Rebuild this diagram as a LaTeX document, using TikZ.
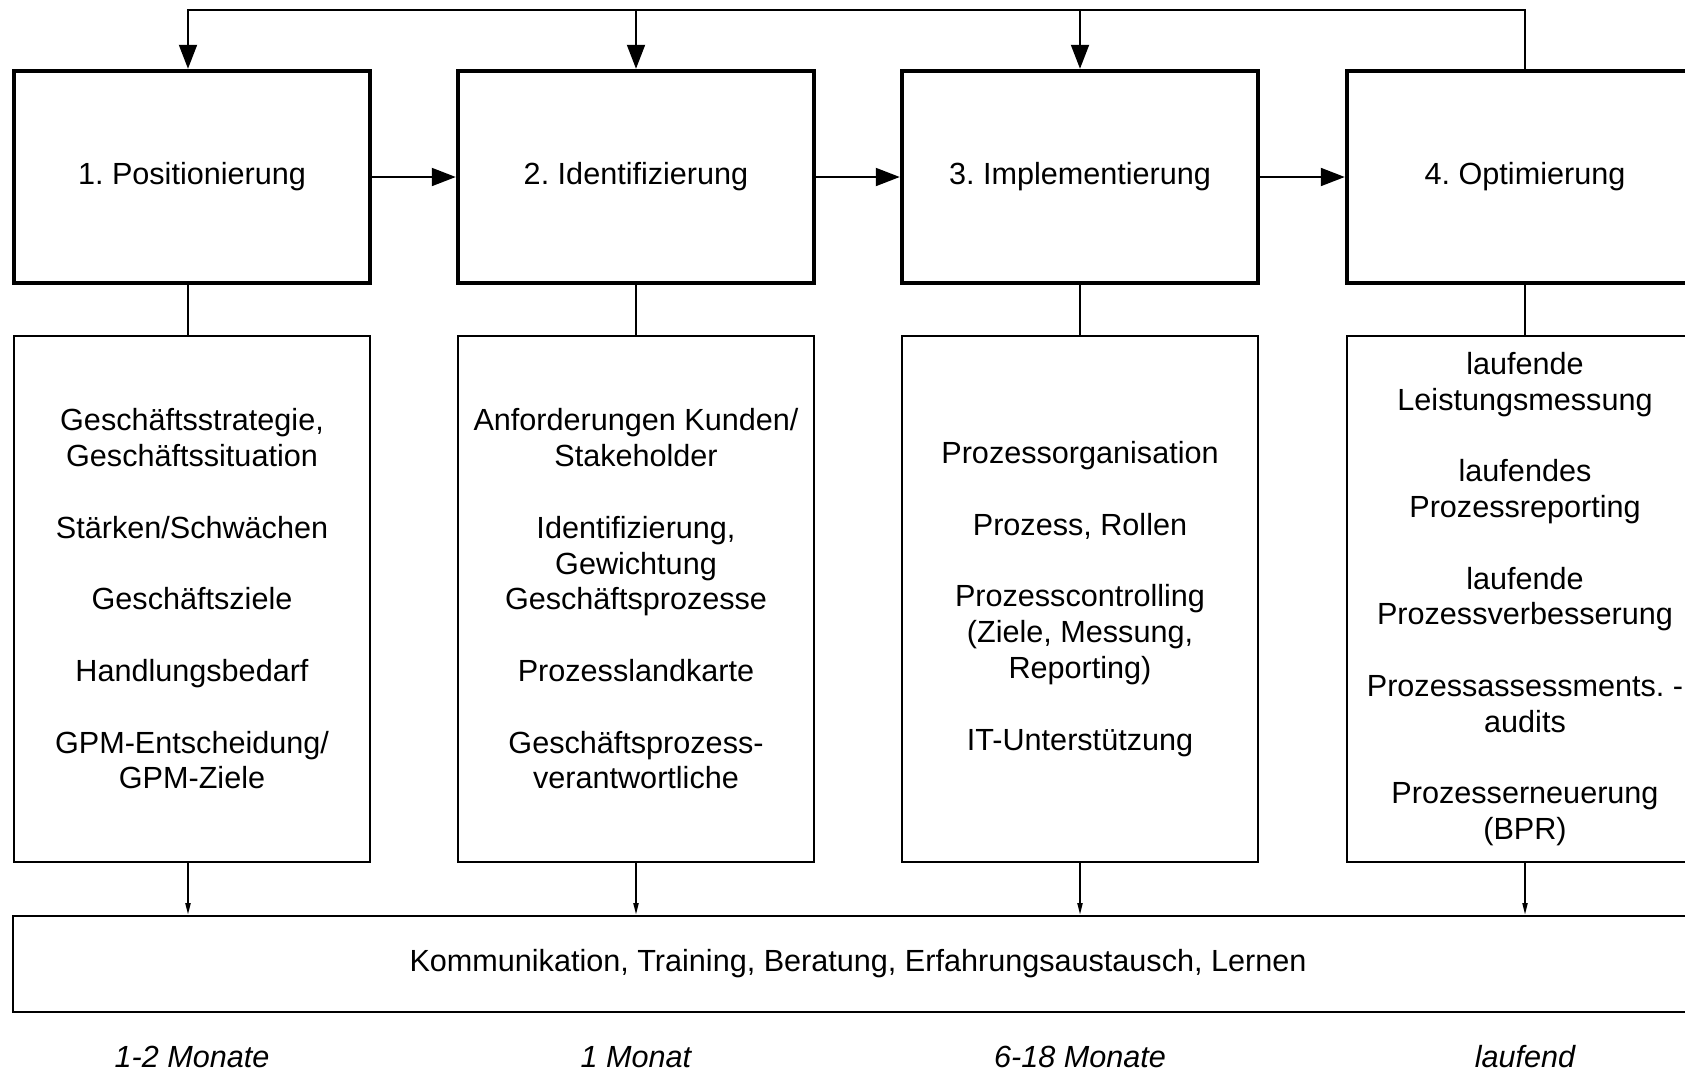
\documentclass[tikz,border=0pt]{standalone}
\usepackage{fontspec}
\setmainfont{Liberation Sans}
\usetikzlibrary{arrows.meta,calc}
\newcommand\itemgap{\\[35.8pt]}
\frenchspacing
\begin{document}
\begin{tikzpicture}[x=1pt,y=-1pt,
  txt/.style={font=\fontsize{30.6}{35.8}\selectfont},
  phase/.style={txt, draw, line width=4pt, minimum width=356.5pt, minimum height=212.5pt, inner sep=0pt},
  content/.style={txt, draw, line width=2pt, minimum width=356.5pt, minimum height=526pt, inner sep=0pt, align=center},
  bar/.style={txt, draw, line width=2pt, minimum width=1690pt, minimum height=96pt, inner sep=0pt},
  duration/.style={font=\fontsize{30.6}{35.8}\selectfont\itshape},
  link/.style={line width=2pt},
  flow/.style={line width=2pt, -{Triangle[length=24pt,width=18pt]}},
  feed/.style={line width=2pt, -{Triangle[length=12pt,width=5pt]}}]
\useasboundingbox (0,0) rectangle (1685,1074);
\clip (0,0) rectangle (1685,1074);
\fill[white] (0,0) rectangle (1685,1074);

% phase boxes
\node[phase] (h1) at (192,177) {1. Positionierung};
\node[phase] (h2) at (636,177) {2. Identifizierung};
\node[phase] (h3) at (1080,177) {3. Implementierung};
\node[phase] (h4) at (1525,177) {4. Optimierung};

% content boxes
\node[content] (c1) at (192,599) {Geschäftsstrategie,\\Geschäftssituation\itemgap Stärken/Schwächen\itemgap Geschäftsziele\itemgap Handlungsbedarf\itemgap GPM-Entscheidung/\\GPM-Ziele};
\node[content] (c2) at (636,599) {Anforderungen Kunden/\\Stakeholder\itemgap Identifizierung,\\Gewichtung\\Geschäftsprozesse\itemgap Prozesslandkarte\itemgap Geschäftsprozess-\\verantwortliche};
\node[content] (c3) at (1080,599) {Prozessorganisation\itemgap Prozess, Rollen\itemgap Prozesscontrolling\\(Ziele, Messung,\\Reporting)\itemgap IT-Unterstützung};
\node[content] (c4) at (1525,599) {laufende\\Leistungsmessung\itemgap laufendes\\Prozessreporting\itemgap laufende\\Prozessverbesserung\itemgap Prozessassessments. -\\audits\itemgap Prozesserneuerung\\(BPR)};

% common base
\node[bar] (base) at (858,964) {Kommunikation, Training, Beratung, Erfahrungsaustausch, Lernen};

% durations
\node[duration] (d1) at (192,1057) {1-2 Monate};
\node[duration] (d2) at (636,1057) {1 Monat};
\node[duration] (d3) at (1080,1057) {6-18 Monate};
\node[duration] (d4) at (1525,1057) {laufend};

% column anchors
\coordinate (k1) at ($(h1.north)+(-4,0)$);
\coordinate (s1) at ($(h1.south)+(-4,0)$);

% feedback loop across the top
\draw[flow] (h4.north) -- (h4.north |- 0,10) -| (k1);
\draw[flow] (h2.north |- 0,10) -- (h2.north);
\draw[flow] (h3.north |- 0,10) -- (h3.north);

% phase sequence
\draw[flow] (h1.east) -- (h2.west);
\draw[flow] (h2.east) -- (h3.west);
\draw[flow] (h3.east) -- (h4.west);

% phase to content
\draw[link] (s1) -- (s1 |- c1.north);
\draw[link] (h2.south) -- (c2.north);
\draw[link] (h3.south) -- (c3.north);
\draw[link] (h4.south) -- (c4.north);

% content to base
\draw[feed] (s1 |- c1.south) -- (s1 |- base.north);
\draw[feed] (c2.south) -- (c2.south |- base.north);
\draw[feed] (c3.south) -- (c3.south |- base.north);
\draw[feed] (c4.south) -- (c4.south |- base.north);
\end{tikzpicture}
\end{document}
